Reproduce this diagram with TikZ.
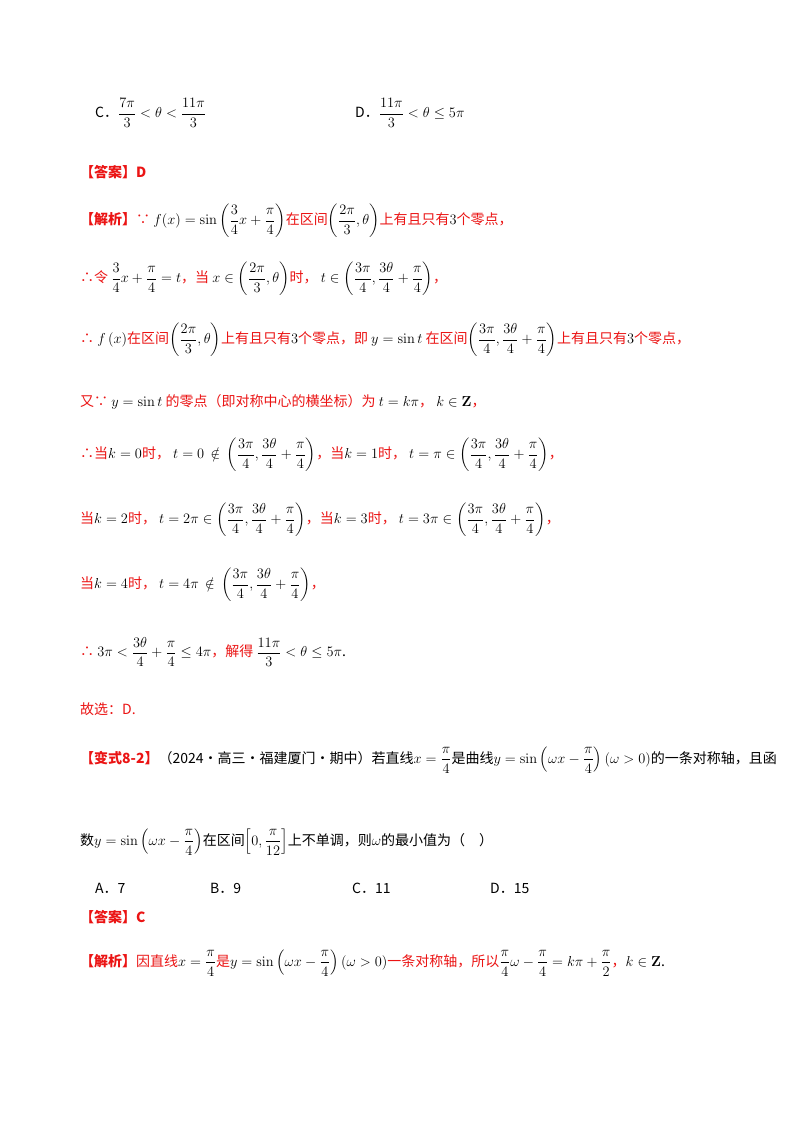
\documentclass[tikz,border=0pt]{standalone}
\usepackage{amsmath,amssymb}
\usepackage[no-math]{fontspec}
\setmainfont{Noto Sans CJK SC}
\definecolor{cred}{RGB}{235,20,20}
\newcommand\rt[1]{\textcolor{cred}{#1}}
\newcommand\ivA{\left(\dfrac{3\pi}{4},\dfrac{3\theta}{4}+\dfrac{\pi}{4}\right)}
\newcommand\ivB{\left(\dfrac{2\pi}{3},\theta\right)}
\newcommand\ysin{y=\sin\left(\omega x-\dfrac{\pi}{4}\right)}
\newcommand\nin{\mathrel{\,\notin\,}}
\tikzset{ln/.style={anchor=west,inner sep=0pt,font=\fontsize{14}{16}\selectfont}}
\begin{document}
\begin{tikzpicture}[x=1pt,y=-1pt]
\useasboundingbox[fill=white] (0,0) rectangle (800,1132);
\node[ln] (c) at (95,113) {C．$\dfrac{7\pi}{3}<\theta<\dfrac{11\pi}{3}$};
\node[ln] (d) at (355,113) {D．$\dfrac{11\pi}{3}<\theta\le5\pi$};
\node[ln] (a1) at (80,172) {\rt{\bfseries【答案】D}};
\node[ln] (l1) at (80,221) {\rt{\bfseries【解析】}\rt{∵} $f(x)=\sin\left(\dfrac{3}{4}x+\dfrac{\pi}{4}\right)$\rt{在区间}$\ivB$\rt{上有且只有}$3$\rt{个零点，}};
\node[ln] (l2) at (80,279) {\rt{∴令} $\dfrac{3}{4}x+\dfrac{\pi}{4}=t$\rt{，当} $x\in\ivB$\rt{时，} $t\in\ivA$\rt{，}};
\node[ln] (l3) at (80,340) {\rt{∴} $f\left(x\right)$\rt{在区间}$\ivB$\rt{上有且只有}$3$\rt{个零点，即} $y=\sin t$ \rt{在区间}$\ivA$\rt{上有且只有}$3$\rt{个零点，}};
\node[ln] (l4) at (80,402) {\rt{又∵} $y=\sin t$ \rt{的零点（即对称中心的横坐标）为} $t=k\pi$\rt{，} $k\in\mathbf{Z}$\rt{，}};
\node[ln] (l5) at (80,455) {\rt{∴当}$k=0$\rt{时，} $t=0\nin\ivA$\rt{，当}$k=1$\rt{时，} $t=\pi\in\ivA$\rt{，}};
\node[ln] (l6) at (80,520) {\rt{当}$k=2$\rt{时，} $t=2\pi\in\ivA$\rt{，当}$k=3$\rt{时，} $t=3\pi\in\ivA$\rt{，}};
\node[ln] (l7) at (80,585) {\rt{当}$k=4$\rt{时，} $t=4\pi\nin\ivA$\rt{，}};
\node[ln] (l8) at (80,652) {\rt{∴} $3\pi<\dfrac{3\theta}{4}+\dfrac{\pi}{4}\le4\pi$\rt{，解得} $\dfrac{11\pi}{3}<\theta\le5\pi$.};
\node[ln] (l9) at (80,709) {\rt{故选：D.}};
\node[ln] (v1) at (80,760) {\rt{\bfseries【变式8-2】}（2024·高三·福建厦门·期中）若直线$x=\dfrac{\pi}{4}$是曲线$\ysin\left(\omega>0\right)$的一条对称轴，且函};
\node[ln] (v2) at (80,842) {数$\ysin$在区间$\left[0,\dfrac{\pi}{12}\right]$上不单调，则$\omega$的最小值为（\quad）};
\node[ln] (oa) at (95,888) {A．7};
\node[ln] (ob) at (210,888) {B．9};
\node[ln] (oc) at (352,888) {C．11};
\node[ln] (od) at (490,888) {D．15};
\node[ln] (a2) at (80,917) {\rt{\bfseries【答案】C}};
\node[ln] (l10) at (80,963) {\rt{\bfseries【解析】}\rt{因直线}$x=\dfrac{\pi}{4}$\rt{是}$\ysin\left(\omega>0\right)$\rt{一条对称轴，所以}$\dfrac{\pi}{4}\omega-\dfrac{\pi}{4}=k\pi+\dfrac{\pi}{2}$\rt{，}$k\in\mathbf{Z}$.};
\end{tikzpicture}
\end{document}
